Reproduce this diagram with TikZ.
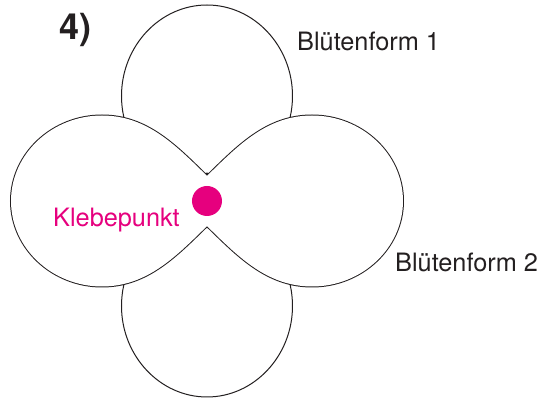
\documentclass[tikz,border=0pt]{standalone}
\usepackage{fontspec}
\setmainfont{TeX Gyre Heros}
\usepackage{xcolor}
\usepackage{tikz}
\usetikzlibrary{positioning}

\definecolor{klebepink}{HTML}{E6007E}
\definecolor{inkgray}{HTML}{231F20}

% one petal, pointing along +x from the centre of the flower
\newcommand{\petal}{(-28,0) .. controls (15,34) and (46,85.5) .. (105,85.5)
  .. controls (155,85.5) and (196,47) .. (196,0)
  .. controls (196,-47) and (155,-85.5) .. (105,-85.5)
  .. controls (46,-85.5) and (15,-34) .. (-28,0) -- cycle}

\begin{document}
\begin{tikzpicture}[
        x=1pt, y=1pt,
        blossom/.style={draw=inkgray, fill=white, line width=1pt},
        outline/.style={draw=inkgray, line width=2pt},
        cover/.style={fill=white},
        tag/.style={inner sep=0pt, anchor=base west, text=inkgray, font=\fontsize{25.3}{30}\selectfont},
        dot/.style={circle, fill=klebepink, minimum size=30pt, inner sep=0pt},
    ]
        \useasboundingbox (-207,-197) rectangle (335,201);

        % Bluetenform 1 (vertical, behind)
        \foreach \ang in {90,-90}
            \filldraw[blossom, rotate=\ang] \petal;

        % Bluetenform 2 (horizontal, in front)
        \foreach \ang in {0,180}
            \draw[outline, rotate=\ang] \petal;
        \foreach \ang in {0,180}
            \fill[cover, rotate=\ang] \petal;

        % Glue point
        \node[dot] (gluedot) at (0,0) {};

        % Labels
        \node[tag, font=\fontsize{36}{40}\selectfont\bfseries] (step4) at (-148,161) {4)};
        \node[tag] (form1) at (90,150) {Blütenform 1};
        \node[tag] (form2) at (188,-71) {Blütenform 2};
        \node[tag, text=klebepink] (glue) at (-154,-25.5) {Klebepunkt};
    \end{tikzpicture}
\end{document}
